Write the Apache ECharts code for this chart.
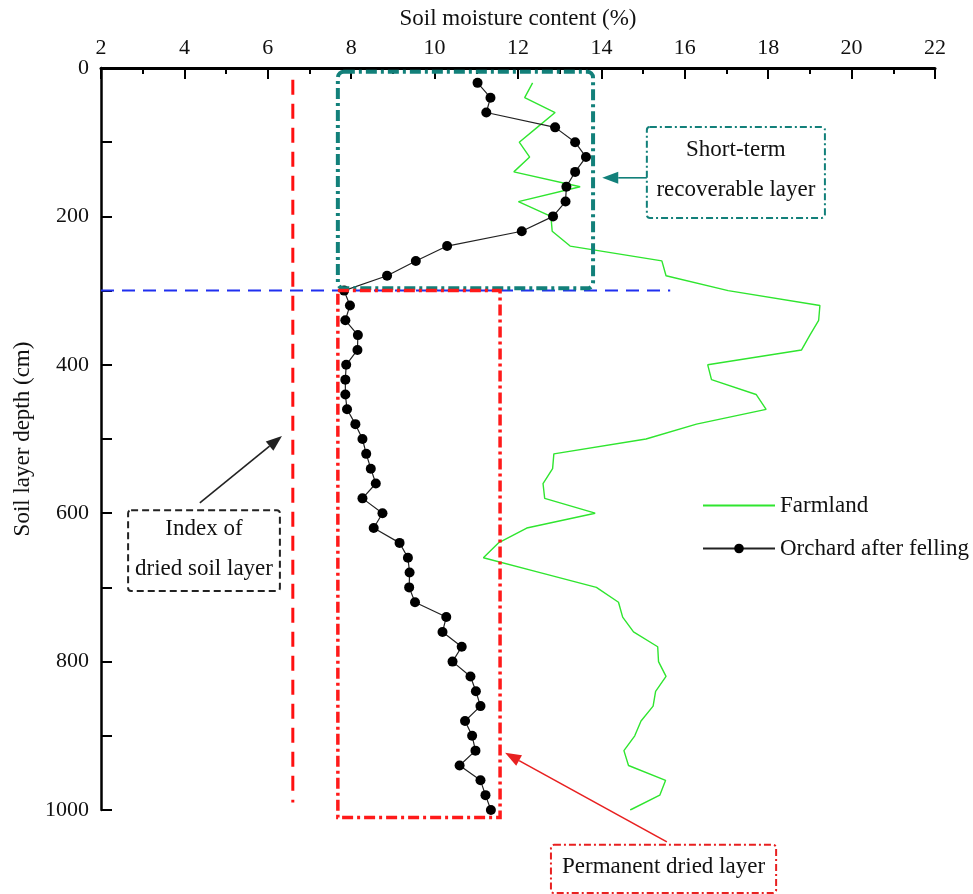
<!DOCTYPE html>
<html>
<head>
<meta charset="utf-8">
<script src="https://cdn.jsdelivr.net/npm/echarts@6/dist/echarts.min.js"></script>
<style>html,body{margin:0;padding:0;background:#fff}#c{width:973px;height:894px}</style>
</head>
<body>
<div id="c"></div>
<script>
// ---- data ----
const orchardDepth = [20,40,60,80,100,120,140,160,180,200,220,240,260,280,300,320,340,360,380,400,420,440,460,480,500,520,540,560,580,600,620,640,660,680,700,720,740,760,780,800,820,840,860,880,900,920,940,960,980,1000];
const orchardMoisture = [11.03,11.34,11.24,12.89,13.37,13.63,13.37,13.16,13.14,12.84,12.09,10.30,9.55,8.86,7.83,7.97,7.86,8.16,8.15,7.88,7.86,7.86,7.90,8.10,8.27,8.36,8.47,8.59,8.27,8.75,8.54,9.16,9.36,9.40,9.39,9.53,10.28,10.19,10.65,10.43,10.86,10.99,11.10,10.73,10.90,10.98,10.60,11.10,11.22,11.35];
const farmDepth = [20,40,60,80,100,120,140,160,180,200,220,240,260,280,300,320,340,360,380,400,420,440,460,480,500,520,540,560,580,600,620,640,660,680,700,720,740,760,780,800,820,840,860,880,900,920,940,960,980,1000];
const farmMoisture = [12.35,12.16,12.89,12.46,12.03,12.28,11.90,13.49,12.01,12.79,12.82,13.25,15.45,15.55,17.04,19.24,19.21,19.00,18.80,16.55,16.64,17.71,17.95,16.28,15.07,12.86,12.83,12.60,12.64,13.85,12.21,11.53,11.17,12.53,13.88,14.41,14.51,14.77,15.35,15.37,15.55,15.30,15.24,14.95,14.80,14.54,14.65,15.54,15.40,14.69];
const seriesNames = ['Farmland','Orchard after felling'];
const xTitle = 'Soil moisture content (%)';
const yTitle = 'Soil layer depth (cm)';
// reference guides (data coordinates)
const driedIndex = 6.6;          // index of dried soil layer
const layerBoundary = 300;       // depth boundary
const shortTermBox = [7.68, 5, 13.8, 297];       // x1, d1, x2, d2
const permanentBox = [7.68, 300, 11.57, 1010];
// annotation placements (data coordinates)
const noteShort = {box:[15.09,79.5,19.36,202], lines:['Short-term','recoverable layer'], arrow:[15.09,148,14.02,148]};
const noteIndex = {box:[2.65,596,6.29,705], lines:['Index of','dried soil layer'], arrow:[4.37,586,6.34,496]};
const notePerm = {box:[12.79,1047,18.19,1112], lines:['Permanent dried layer'], arrow:[15.57,1043,11.69,923]};

const FONT = '"Liberation Serif","Times New Roman",serif';
const chart = echarts.init(document.getElementById('c'));
const zip = (xs, ds) => xs.map((v,i)=>[v, ds[i]]);

chart.setOption({
  animation:false,
  backgroundColor:'#fff',
  grid:{left:101, top:68, right:38, bottom:84, containLabel:false, outerBoundsMode:'none'},
  legend:{
    data:[{name:seriesNames[0], itemStyle:{opacity:0}}, {name:seriesNames[1]}],
    orient:'vertical', left:697, top:489, itemWidth:72, itemHeight:12, itemGap:20,
    textStyle:{fontFamily:FONT, fontSize:23, color:'#111'}
  },
  xAxis:{
    type:'value', position:'top', min:2, max:22, interval:2,
    name:xTitle, nameLocation:'middle', nameGap:38,
    nameTextStyle:{fontFamily:FONT, fontSize:23, color:'#111'},
    axisLine:{onZero:false, lineStyle:{color:'#000', width:3}},
    axisTick:{inside:true, length:11, lineStyle:{color:'#000', width:2}},
    minorTick:{show:true, splitNumber:2, length:6, lineStyle:{color:'#000', width:2}},
    axisLabel:{fontFamily:FONT, fontSize:22, color:'#111', margin:9},
    splitLine:{show:false}
  },
  yAxis:{
    type:'value', inverse:true, min:0, max:1000, interval:200,
    name:yTitle, nameLocation:'middle', nameGap:67,
    nameTextStyle:{fontFamily:FONT, fontSize:23, color:'#111'},
    axisLine:{onZero:false, lineStyle:{color:'#000', width:2.5}},
    axisTick:{inside:true, length:11, lineStyle:{color:'#000', width:2}},
    minorTick:{show:true, splitNumber:2, length:11, lineStyle:{color:'#000', width:2}},
    axisLabel:{fontFamily:FONT, fontSize:22, color:'#111', margin:12, formatter:v=>String(v)},
    splitLine:{show:false}
  },
  series:[
    {name:'idx', type:'line', data:[[driedIndex,16],[driedIndex,990]], symbol:'none', silent:true, z:1,
     lineStyle:{color:'#ff1010', width:3, type:[15,9]}},
    {name:'bnd', type:'line', data:[[2,layerBoundary],[15.65,layerBoundary]], symbol:'none', silent:true, z:1,
     lineStyle:{color:'#1f2ff0', width:2, type:[13,8]}},
    {name:seriesNames[0], type:'line', data:zip(farmMoisture, farmDepth), symbol:'none', z:3,
     itemStyle:{color:'#2fe52f'}, lineStyle:{color:'#2fe52f', width:1.4}},
    {name:seriesNames[1], type:'line', data:zip(orchardMoisture, orchardDepth), symbol:'circle', symbolSize:10, z:4,
     itemStyle:{color:'#000'}, lineStyle:{color:'#222', width:1.2}}
  ]
});

function px(x,d){ return chart.convertToPixel({gridIndex:0}, [x,d]); }
function rectFrom(b, style, r){
  const p1 = px(b[0],b[1]), p2 = px(b[2],b[3]);
  return {type:'rect', z:5, shape:{x:p1[0], y:p1[1], width:p2[0]-p1[0], height:p2[1]-p1[1], r:r||0}, style:style};
}
function arrow(a, color, w){
  const p1 = px(a[0],a[1]), p2 = px(a[2],a[3]);
  const ang = Math.atan2(p2[1]-p1[1], p2[0]-p1[0]);
  const L = 16, W = 6;
  const bx = p2[0]-L*Math.cos(ang), by = p2[1]-L*Math.sin(ang);
  const nx = -Math.sin(ang), ny = Math.cos(ang);
  return [
    {type:'line', z:6, shape:{x1:p1[0], y1:p1[1], x2:bx, y2:by}, style:{stroke:color, lineWidth:w}},
    {type:'polygon', z:6, shape:{points:[[p2[0],p2[1]],[bx+nx*W,by+ny*W],[bx-nx*W,by-ny*W]]}, style:{fill:color}}
  ];
}
function note(n, color, dash){
  const out = [];
  out.push(rectFrom(n.box, {fill:'#fff', stroke:color, lineWidth:2, lineDash:dash}, 3));
  const p1 = px(n.box[0],n.box[1]), p2 = px(n.box[2],n.box[3]);
  const cx = (p1[0]+p2[0])/2, cyc = (p1[1]+p2[1])/2 - 2;
  const lh = 40;
  n.lines.forEach((t,i)=>{
    const cy = cyc + (i - (n.lines.length-1)/2)*lh;
    out.push({type:'text', z:7, style:{text:t, x:cx, y:cy, align:'center', verticalAlign:'middle', font:'23px '+FONT, fill:'#111'}});
  });
  return out.concat(arrow(n.arrow, color, 1.6));
}

const g = [];
g.push(rectFrom(shortTermBox, {fill:null, stroke:'#12807a', lineWidth:4, lineDash:[11,4,3,4]}, 6));
g.push(rectFrom(permanentBox, {fill:null, stroke:'#ff1a1a', lineWidth:3.5, lineDash:[11,4,3,4]}, 0));
note(noteShort, '#12807a', [7,3,2,3]).forEach(e=>g.push(e));
note(noteIndex, '#222', [7,4]).forEach(e=>g.push(e));
note(notePerm, '#e82020', [7,3,2,3]).forEach(e=>g.push(e));
chart.setOption({graphic:g});
</script>
</body>
</html>
